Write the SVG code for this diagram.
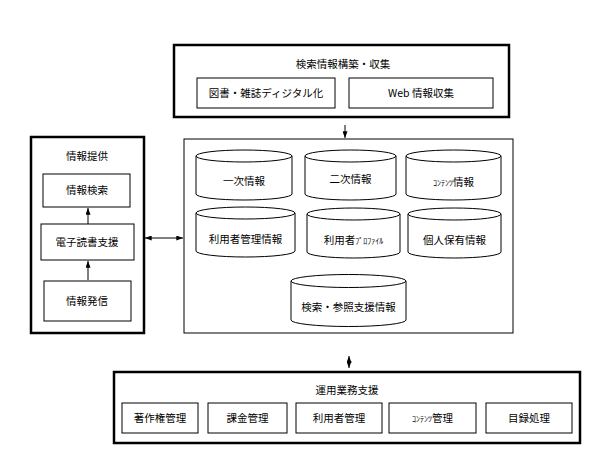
<svg xmlns="http://www.w3.org/2000/svg" width="595" height="455" viewBox="0 0 595 455">
<defs>
<style>
text{font-family:"Noto Sans CJK JP","Liberation Sans",sans-serif;font-size:10.5px;fill:#000;text-anchor:middle}
.thick{fill:#fff;stroke:#000;stroke-width:2.5}
.thin{fill:#fff;stroke:#000;stroke-width:1}
.cyl{fill:#fff;stroke:#000;stroke-width:1}
.conn{fill:none;stroke:#000;stroke-width:1}
.small{font-size:8px}
</style>
<marker id="ah" viewBox="0 0 8 6" refX="8" refY="3" markerWidth="7" markerHeight="5" markerUnits="userSpaceOnUse" orient="auto-start-reverse">
<path d="M0,0 L8,3 L0,6 z" fill="#000"/>
</marker>
</defs>
<rect width="595" height="455" fill="#fff"/>

<g id="top">
<rect class="thick" x="174" y="45" width="335" height="72"/>
<text x="343" y="68">検索情報構築・収集</text>
<g id="top-digitize"><rect class="thin" x="197" y="78" width="138" height="30"/><text x="266" y="97">図書・雑誌ディジタル化</text></g>
<g id="top-web"><rect class="thin" x="349" y="78" width="144" height="30"/><text x="421" y="97">Web 情報収集</text></g>
</g>

<g id="left">
<rect class="thick" x="31" y="137" width="113" height="196"/>
<text x="87" y="160">情報提供</text>
<g id="left-search"><rect class="thin" x="43" y="174" width="87" height="33"/><text x="87" y="194">情報検索</text></g>
<g id="left-reading"><rect class="thin" x="41" y="224" width="93" height="36"/><text x="87" y="246">電子読書支援</text></g>
<g id="left-send"><rect class="thin" x="44" y="281" width="87" height="40"/><text x="87" y="305">情報発信</text></g>
</g>

<g id="middle">
<rect class="thin" x="184" y="139" width="329" height="194"/>
<g id="c1"><path class="cyl" d="M196,156 V194 A48,6 0 0 0 292,194 V156"/><ellipse class="cyl" cx="244" cy="156" rx="48" ry="6"/><text x="244" y="185">一次情報</text></g>
<g id="c2"><path class="cyl" d="M305,156 V194 A45.5,6 0 0 0 396,194 V156"/><ellipse class="cyl" cx="350.5" cy="156" rx="45.5" ry="6"/><text x="350.5" y="183">二次情報</text></g>
<g id="c3"><path class="cyl" d="M406,156 V194 A47.5,6 0 0 0 501,194 V156"/><ellipse class="cyl" cx="453.5" cy="156" rx="47.5" ry="6"/><text x="453.5" y="186"><tspan class="small">ｺﾝﾃﾝﾂ</tspan>情報</text></g>
<g id="c4"><path class="cyl" d="M196,213 V251 A49.5,6 0 0 0 295,251 V213"/><ellipse class="cyl" cx="245.5" cy="213" rx="49.5" ry="6"/><text x="245.5" y="243">利用者管理情報</text></g>
<g id="c5"><path class="cyl" d="M307,214 V252 A46.5,6 0 0 0 400,252 V214"/><ellipse class="cyl" cx="353.5" cy="214" rx="46.5" ry="6"/><text x="353.5" y="244">利用者<tspan class="small">ﾌﾟﾛﾌｧｲﾙ</tspan></text></g>
<g id="c6"><path class="cyl" d="M408,214 V252 A46.5,6 0 0 0 501,252 V214"/><ellipse class="cyl" cx="454.5" cy="214" rx="46.5" ry="6"/><text x="454.5" y="244">個人保有情報</text></g>
<g id="c7"><path class="cyl" d="M291,281 V320 A57.5,6.5 0 0 0 406,320 V281"/><ellipse class="cyl" cx="348.5" cy="281" rx="57.5" ry="6.5"/><text x="348.5" y="311">検索・参照支援情報</text></g>
</g>

<g id="bottom">
<rect class="thick" x="114" y="372" width="466" height="71"/>
<text x="347" y="394">運用業務支援</text>
<g id="b1"><rect class="thin" x="122" y="403" width="76" height="30"/><text x="160" y="422">著作権管理</text></g>
<g id="b2"><rect class="thin" x="208" y="403" width="79" height="30"/><text x="247.5" y="422">課金管理</text></g>
<g id="b3"><rect class="thin" x="296" y="403" width="86" height="30"/><text x="339" y="422">利用者管理</text></g>
<g id="b4"><rect class="thin" x="389" y="403" width="87" height="30"/><text x="432.5" y="422"><tspan class="small">ｺﾝﾃﾝﾂ</tspan>管理</text></g>
<g id="b5"><rect class="thin" x="486" y="403" width="86" height="30"/><text x="529" y="422">目録処理</text></g>
</g>

<g id="connectors">
<line class="conn" x1="345" y1="125" x2="345" y2="138" marker-end="url(#ah)"/>
<line class="conn" x1="145" y1="238" x2="183" y2="238" marker-start="url(#ah)" marker-end="url(#ah)"/>
<line class="conn" x1="88" y1="224" x2="88" y2="208" marker-end="url(#ah)"/>
<line class="conn" x1="88" y1="280" x2="88" y2="261" marker-end="url(#ah)"/>
<line class="conn" x1="349" y1="356" x2="349" y2="368" marker-start="url(#ah)" marker-end="url(#ah)"/>
</g>
</svg>
